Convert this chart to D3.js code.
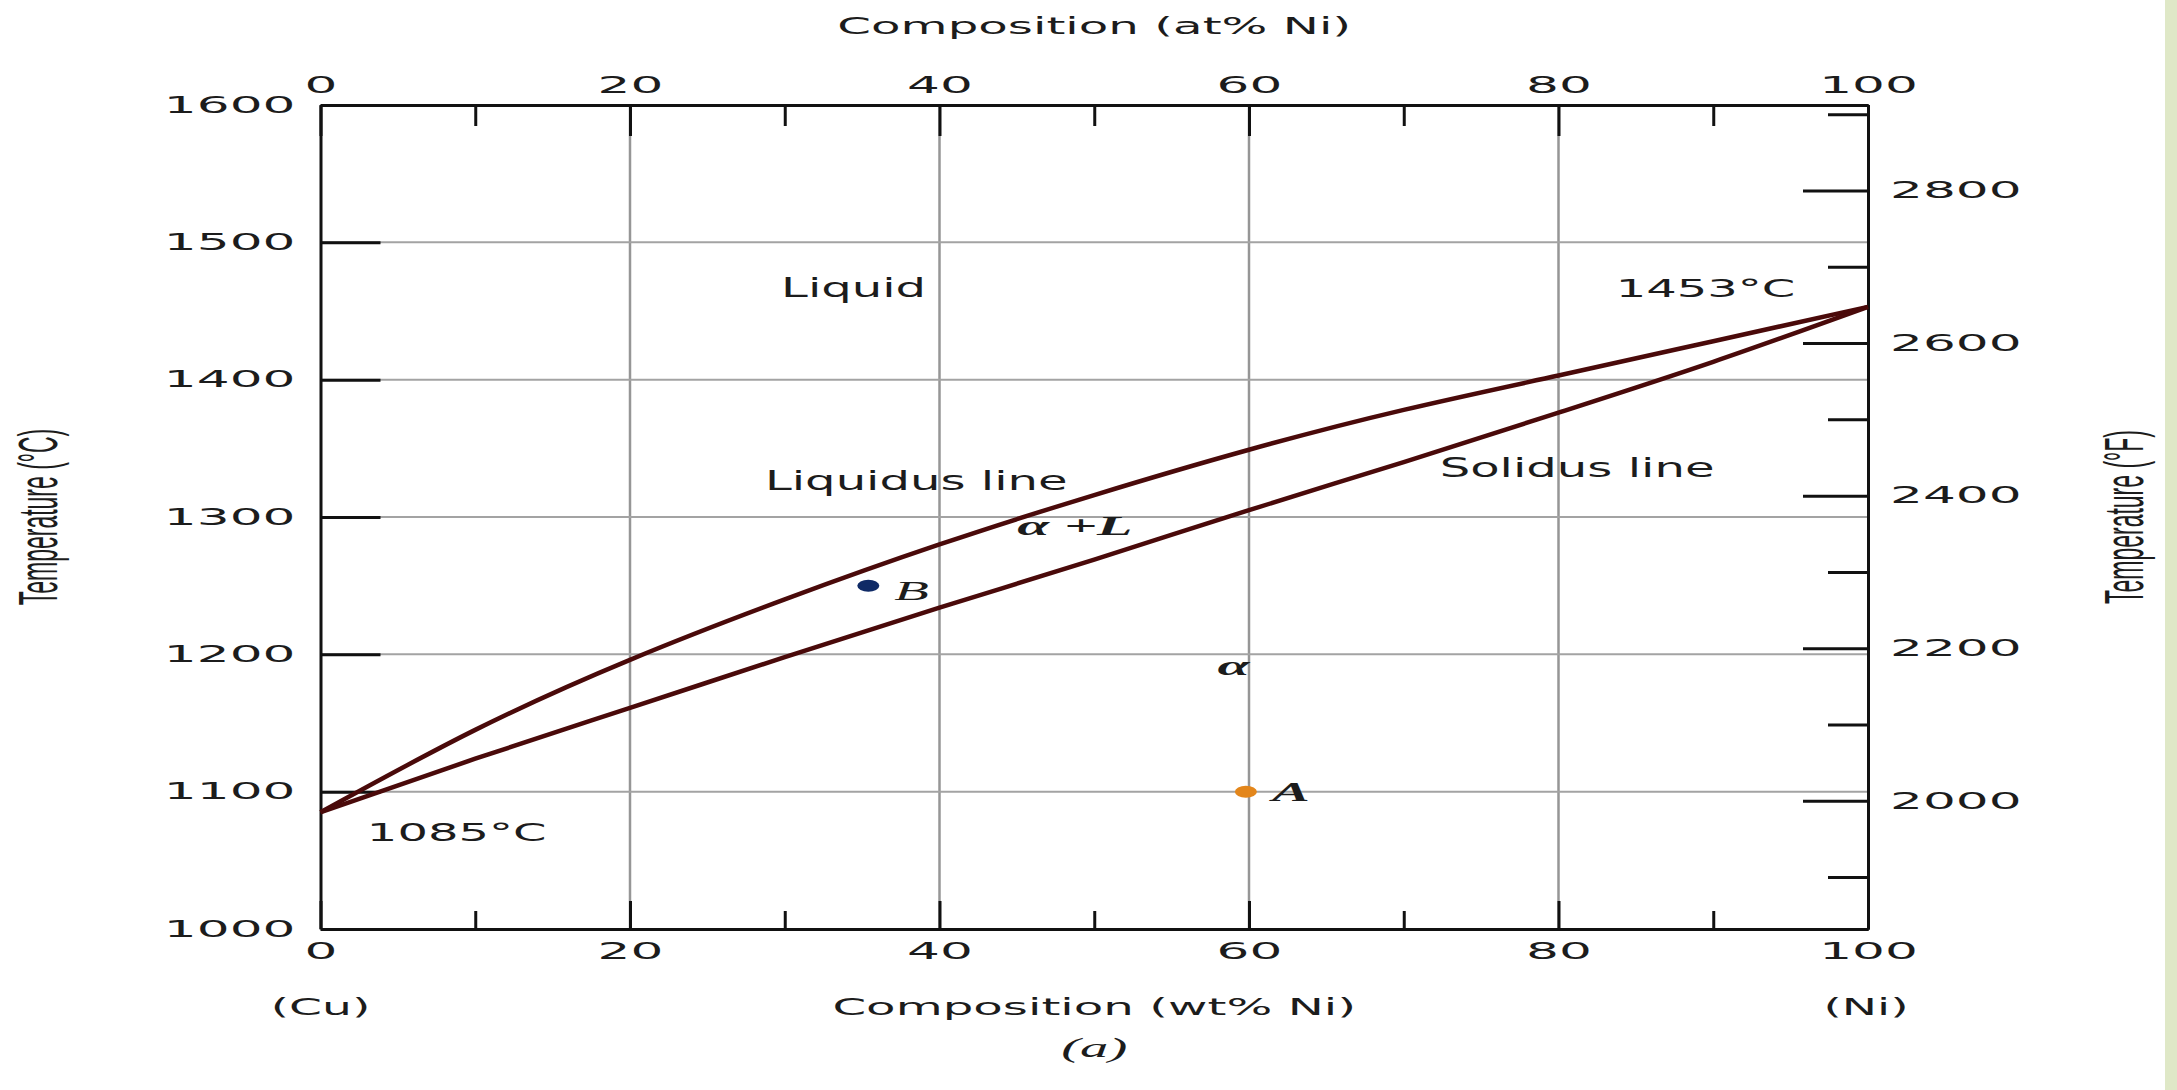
<!DOCTYPE html>
<html><head><meta charset="utf-8">
<script src="https://cdn.jsdelivr.net/npm/d3@7"></script>
<style>html,body{margin:0;padding:0;background:#fff;overflow:hidden}</style>
</head><body><svg id="chart" width="2177" height="1090"></svg>
<script>
// ---------------- data ----------------
const wtNi       = [0, 10, 20, 30, 40, 50, 60, 70, 80, 90, 100];
const liquidusC  = [1085, 1145, 1196, 1240, 1280, 1316, 1349, 1378, 1403, 1428, 1453];
const solidusC   = [1085, 1124, 1161, 1198, 1234, 1269, 1305, 1340, 1376, 1413, 1453];
const pointNames = ["A", "B"];
const pointWt    = [59.8, 35.4];
const pointC     = [1100, 1250];
const pointColors = ["#e3861b", "#0f2a66"];
const xMajorTicks = [0, 20, 40, 60, 80, 100];
const xMinorTicks = [10, 30, 50, 70, 90];
const cTicks      = [1000, 1100, 1200, 1300, 1400, 1500, 1600];
const fMajorTicks = [2000, 2200, 2400, 2600, 2800];
const fMinorTicks = [1900, 2100, 2300, 2500, 2700, 2900];
const gridWt = [20, 40, 60, 80];
const gridC  = [1100, 1200, 1300, 1400, 1500];
const regionLabels = ["Liquid", "Liquidus line", "Solidus line"];
const regionWt     = [34.45, 38.5, 81.2];
const regionC      = [1460, 1320, 1329];
const meltLabels = ["1453°C", "1085°C"];
const meltWt     = [89.5, 8.8];
const meltC      = [1460, 1064.3];
const phaseLabels = ["α +L", "α"];
const phaseWt     = [48.75, 59.0];
const phaseC      = [1287, 1185];

// ---------------- layout ----------------
const W = 2177, H = 1090;
const L = 320.5, R = 1868, T = 105, B = 929;
const svg = d3.select("#chart");
svg.append("rect").attr("width", W).attr("height", H).attr("fill", "#fff");
svg.append("rect").attr("x", 2165).attr("width", W - 2165).attr("height", H).attr("fill", "#dfe8c7");

const x = d3.scaleLinear().domain([0, 100]).range([L, R]);
const y = d3.scaleLinear().domain([1000, 1600]).range([B, T]);
const yF = d3.scaleLinear().domain([1000 * 1.8 + 32, 1600 * 1.8 + 32]).range([B, T]);

const SANS = "'DejaVu Sans', sans-serif";
const SERIF = "'Liberation Serif', 'DejaVu Serif', serif";
const INK = "#1c1c1c";

function stretch(sel, sx) {
  sel.each(function () {
    const t = d3.select(this);
    const xx = +t.attr("x") || 0, yy = +t.attr("y") || 0;
    t.attr("x", 0).attr("y", 0).attr("transform", `translate(${xx},${yy}) scale(${sx},1)`);
  });
}

// gridlines
svg.append("g").selectAll("line").data(gridWt).join("line")
  .attr("x1", d => x(d)).attr("x2", d => x(d)).attr("y1", T).attr("y2", B)
  .attr("stroke", "#969696").attr("stroke-width", 2.5);
svg.append("g").selectAll("line").data(gridC).join("line")
  .attr("x1", L).attr("x2", R).attr("y1", d => y(d)).attr("y2", d => y(d))
  .attr("stroke", "#a3a3a3").attr("stroke-width", 2);

// axes
function styleAxis(g, sx, labels) {
  g.select(".domain").attr("stroke", "#111").attr("stroke-width", 3);
  g.selectAll(".tick line").attr("stroke", "#111").attr("stroke-width", 3);
  const tx = g.selectAll(".tick text").attr("fill", INK)
    .attr("font-family", SANS).attr("font-size", 22.5);
  if (labels) stretch(tx, sx); else tx.remove();
}
const fmt = d3.format("d");
// left (°C)
svg.append("g").attr("transform", `translate(${L},0)`)
  .call(d3.axisLeft(y).tickValues(cTicks).tickSizeInner(-60).tickSizeOuter(0).tickPadding(25).tickFormat(fmt))
  .call(g => styleAxis(g, 2.3, true));
// right (°F)
svg.append("g").attr("transform", `translate(${R},0)`)
  .call(d3.axisRight(yF).tickValues(fMinorTicks).tickSizeInner(-40).tickSizeOuter(0).tickFormat(""))
  .call(g => styleAxis(g, 2.3, false));
svg.append("g").attr("transform", `translate(${R},0)`)
  .call(d3.axisRight(yF).tickValues(fMajorTicks).tickSizeInner(-65).tickSizeOuter(0).tickPadding(22).tickFormat(fmt))
  .call(g => styleAxis(g, 2.3, true));
// top (at%)
svg.append("g").attr("transform", `translate(0,${T})`)
  .call(d3.axisTop(x).tickValues(xMinorTicks).tickSizeInner(-21).tickSizeOuter(0).tickFormat(""))
  .call(g => styleAxis(g, 2.3, false));
svg.append("g").attr("transform", `translate(0,${T})`)
  .call(d3.axisTop(x).tickValues(xMajorTicks).tickSizeInner(-31).tickSizeOuter(0).tickPadding(12).tickFormat(fmt))
  .call(g => styleAxis(g, 2.3, true));
// bottom (wt%)
svg.append("g").attr("transform", `translate(0,${B})`)
  .call(d3.axisBottom(x).tickValues(xMinorTicks).tickSizeInner(-18).tickSizeOuter(0).tickFormat(""))
  .call(g => styleAxis(g, 2.3, false));
svg.append("g").attr("transform", `translate(0,${B})`)
  .call(d3.axisBottom(x).tickValues(xMajorTicks).tickSizeInner(-28).tickSizeOuter(0).tickPadding(14).tickFormat(fmt))
  .call(g => styleAxis(g, 2.3, true));

// phase boundaries
const line = d3.line().x((d, i) => x(wtNi[i])).y(d => y(d)).curve(d3.curveNatural);
[liquidusC, solidusC].forEach(arr => {
  svg.append("path").datum(arr).attr("d", line)
    .attr("fill", "none").attr("stroke", "#4a0a0a").attr("stroke-width", 4.5).attr("stroke-linejoin", "round");
});

// points
svg.append("g").selectAll("ellipse").data(pointNames).join("ellipse")
  .attr("cx", (d, i) => x(pointWt[i])).attr("cy", (d, i) => y(pointC[i]))
  .attr("rx", 11).attr("ry", 6).attr("fill", (d, i) => pointColors[i]);
svg.append("g").selectAll("text").data(pointNames).join("text")
  .text(d => d)
  .attr("x", (d, i) => x(pointWt[i]) + 26).attr("y", (d, i) => y(pointC[i]) + (d === "B" ? 14 : 9))
  .attr("font-family", SERIF).attr("font-style", "italic").attr("font-weight", d => d === "A" ? "bold" : "normal")
  .attr("font-size", 27).attr("fill", INK)
  .call(s => stretch(s, 2.1));

// labels
function addLabels(texts, wts, cs, font, size, sx, extra) {
  const s = svg.append("g").selectAll("text").data(texts).join("text")
    .text(d => d).attr("x", (d, i) => x(wts[i])).attr("y", (d, i) => y(cs[i]))
    .attr("text-anchor", "middle").attr("font-family", font).attr("font-size", size).attr("fill", INK);
  if (extra) extra(s);
  stretch(s, sx);
}
addLabels(regionLabels, regionWt, regionC, SANS, 26, 1.85);
addLabels(meltLabels, meltWt, meltC, SANS, 24, 2.0);
addLabels(phaseLabels, phaseWt, phaseC, SERIF, 27, 2.15,
  s => s.attr("font-style", "italic").attr("font-weight", "bold"));

// axis titles
function title(txt, px, py, font, size, sx, italic) {
  const t = svg.append("text").text(txt).attr("x", px).attr("y", py)
    .attr("text-anchor", "middle").attr("font-family", font).attr("font-size", size).attr("fill", INK);
  if (italic) t.attr("font-style", "italic");
  stretch(t, sx);
}
title("Composition (at% Ni)", (L + R) / 2, 34, SANS, 23, 2.1);
title("Composition (wt% Ni)", (L + R) / 2, 1015, SANS, 23, 2.1);
title("(Cu)", L, 1015, SANS, 23, 2.05);
title("(Ni)", R - 2, 1015, SANS, 23, 2.05);
title("(a)", (L + R) / 2, 1057, SERIF, 27, 2.1, true);

function vtitle(txt, px, py) {
  svg.append("text").text(txt)
    .attr("transform", `translate(${px},${py}) rotate(-90) scale(1,2.4)`)
    .attr("text-anchor", "middle").attr("font-family", "'Liberation Sans', Arial, sans-serif")
    .attr("font-size", 23).attr("fill", INK);
}
vtitle("Temperature (°C)", 57, (T + B) / 2);
vtitle("Temperature (°F)", 2143, (T + B) / 2);
</script>
</body></html>
